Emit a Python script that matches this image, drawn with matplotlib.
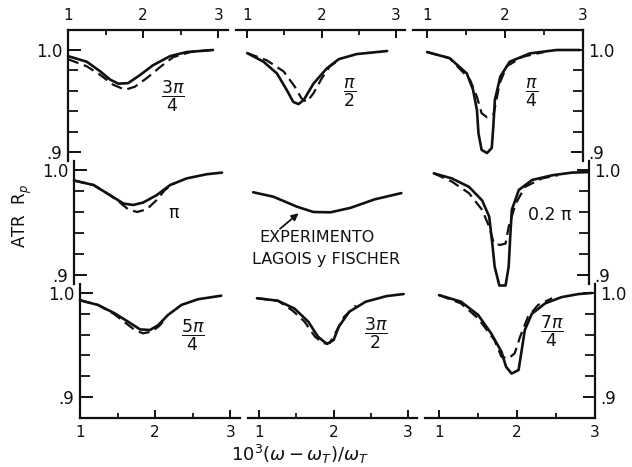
import matplotlib
matplotlib.use("Agg")
import matplotlib.pyplot as plt
from matplotlib.ticker import FixedLocator, NullFormatter, FixedFormatter

plt.rcParams['font.family'] = ['DejaVu Sans']
plt.rcParams['mathtext.fontset'] = 'dejavusans'

# ---- data: reduced frequency vs ATR reflectivity (solid = calc A, dashed = calc B)
# row 0
x_3pi4_s = [1.0, 1.25, 1.43, 1.56, 1.67, 1.8, 1.96, 2.13, 2.36, 2.58, 2.93]
r_3pi4_s = [0.994, 0.9885, 0.979, 0.971, 0.967, 0.9675, 0.9755, 0.985, 0.994, 0.998, 1.0]
x_3pi4_d = [1.0, 1.25, 1.43, 1.6, 1.76, 1.89, 2.05, 2.23, 2.4, 2.63, 2.9]
r_3pi4_d = [0.991, 0.984, 0.9755, 0.966, 0.961, 0.964, 0.9725, 0.9835, 0.993, 0.998, 1.0]

x_pi2_s = [1.0, 1.22, 1.4, 1.53, 1.62, 1.69, 1.76, 1.89, 2.07, 2.23, 2.47, 2.88]
r_pi2_s = [0.997, 0.9885, 0.977, 0.961, 0.949, 0.947, 0.951, 0.967, 0.982, 0.991, 0.996, 0.999]
x_pi2_d = [1.0, 1.26, 1.49, 1.64, 1.73, 1.8, 1.89, 2.0, 2.11, 2.25]
r_pi2_d = [0.997, 0.990, 0.979, 0.964, 0.9525, 0.949, 0.9575, 0.972, 0.984, 0.991]

x_pi4_s = [1.0, 1.29, 1.51, 1.59, 1.64, 1.66, 1.70, 1.77, 1.83, 1.85, 1.87, 1.94,
           2.06, 2.32, 2.66, 2.96]
r_pi4_s = [0.998, 0.992, 0.977, 0.961, 0.941, 0.918, 0.902, 0.899, 0.904, 0.925,
           0.951, 0.974, 0.9885, 0.9967, 1.0, 1.0]
x_pi4_d = [1.0, 1.29, 1.55, 1.64, 1.70, 1.77, 1.85, 1.89, 1.93, 2.02, 2.23, 2.5]
r_pi4_d = [0.998, 0.992, 0.971, 0.954, 0.938, 0.934, 0.936, 0.951, 0.967, 0.984,
           0.9935, 0.998]

# row 1
x_pi_s = [1.0, 1.26, 1.48, 1.66, 1.79, 1.92, 2.10, 2.28, 2.50, 2.77, 2.97]
r_pi_s = [0.990, 0.9857, 0.976, 0.968, 0.9667, 0.969, 0.976, 0.9857, 0.992, 0.996, 0.9975]
x_pi_d = [1.0, 1.26, 1.48, 1.62, 1.72, 1.84, 1.97, 2.10, 2.21, 2.35]
r_pi_d = [0.990, 0.9857, 0.976, 0.9685, 0.9626, 0.960, 0.9626, 0.9714, 0.981, 0.988]

x_exp = [1.0, 1.27, 1.59, 1.81, 2.04, 2.31, 2.63, 2.99]
r_exp = [0.9788, 0.9746, 0.965, 0.960, 0.9597, 0.964, 0.972, 0.978]

x_02pi_s = [1.01, 1.24, 1.46, 1.63, 1.72, 1.76, 1.79, 1.85, 1.93, 1.97, 1.99, 2.01,
            2.10, 2.27, 2.53, 2.78, 2.99]
r_02pi_s = [0.9968, 0.992, 0.984, 0.971, 0.9556, 0.930, 0.908, 0.890, 0.890, 0.908,
            0.9365, 0.962, 0.981, 0.9905, 0.995, 0.9975, 0.998]
x_02pi_d = [1.01, 1.24, 1.46, 1.63, 1.72, 1.78, 1.86, 1.93, 1.97, 2.06, 2.18, 2.40, 2.6]
r_02pi_d = [0.9968, 0.989, 0.978, 0.962, 0.946, 0.930, 0.9286, 0.930, 0.946, 0.968,
            0.984, 0.992, 0.995]

# row 2
x_5pi4_s = [1.0, 1.24, 1.46, 1.64, 1.80, 1.93, 2.04, 2.17, 2.35, 2.57, 2.88]
r_5pi4_s = [0.993, 0.9885, 0.9805, 0.9724, 0.965, 0.9644, 0.969, 0.9788, 0.9885, 0.994, 0.9974]
x_5pi4_d = [1.0, 1.24, 1.46, 1.62, 1.73, 1.84, 1.95, 2.05, 2.15]
r_5pi4_d = [0.993, 0.9885, 0.9795, 0.9705, 0.9644, 0.9612, 0.9628, 0.968, 0.976]

x_3pi2_s = [0.97, 1.25, 1.475, 1.66, 1.79, 1.91, 2.0, 2.07, 2.21, 2.43, 2.71, 2.94]
r_3pi2_s = [0.995, 0.9926, 0.985, 0.9724, 0.958, 0.951, 0.9548, 0.9676, 0.982, 0.9916, 0.997, 0.999]
x_3pi2_d = [0.97, 1.25, 1.45, 1.61, 1.75, 1.86, 1.95, 2.02, 2.14, 2.3]
r_3pi2_d = [0.995, 0.9926, 0.983, 0.9724, 0.958, 0.9516, 0.952, 0.961, 0.977, 0.988]

x_7pi4_s = [1.0, 1.28, 1.5, 1.67, 1.8, 1.86, 1.93, 2.02, 2.06, 2.10, 2.19, 2.36, 2.57, 2.79, 2.96]
r_7pi4_s = [0.998, 0.9917, 0.979, 0.961, 0.9436, 0.929, 0.9225, 0.926, 0.945, 0.9644,
            0.980, 0.990, 0.996, 0.999, 1.0]
x_7pi4_d = [1.0, 1.28, 1.5, 1.71, 1.8, 1.89, 1.97, 2.04, 2.14, 2.27, 2.45]
r_7pi4_d = [0.998, 0.990, 0.9757, 0.9548, 0.9388, 0.937, 0.942, 0.958, 0.977, 0.9885, 0.995]

labels = [[r'$\dfrac{3\pi}{4}$', r'$\dfrac{\pi}{2}$', r'$\dfrac{\pi}{4}$'],
          ['π', None, '0.2 π'],
          [r'$\dfrac{5\pi}{4}$', r'$\dfrac{3\pi}{2}$', r'$\dfrac{7\pi}{4}$']]
label_pos = [[(2.40, 0.955), (2.38, 0.958), (2.34, 0.958)],
             [(2.32, 0.9588), None, (2.50, 0.957)],
             [(2.50, 0.9596), (2.57, 0.961), (2.45, 0.9628)]]

curves = [
    [((x_3pi4_s, r_3pi4_s), (x_3pi4_d, r_3pi4_d)),
     ((x_pi2_s, r_pi2_s), (x_pi2_d, r_pi2_d)),
     ((x_pi4_s, r_pi4_s), (x_pi4_d, r_pi4_d))],
    [((x_pi_s, r_pi_s), (x_pi_d, r_pi_d)),
     ((x_exp, r_exp), None),
     ((x_02pi_s, r_02pi_s), (x_02pi_d, r_02pi_d))],
    [((x_5pi4_s, r_5pi4_s), (x_5pi4_d, r_5pi4_d)),
     ((x_3pi2_s, r_3pi2_s), (x_3pi2_d, r_3pi2_d)),
     ((x_7pi4_s, r_7pi4_s), (x_7pi4_d, r_7pi4_d))],
]

# ---- layout (pixel geometry of the 632 x 467 canvas)
W, H = 632, 467
fig = plt.figure(figsize=(W / 100, H / 100), dpi=100)

row_origin = [68, 74, 80]                       # px of x=1 in left column
row_y = [(29.6, 172.4), (149.0, 296.0), (272.2, 417.8)]   # px of y=1.02 and y=0.88
row_spine = [(0.891, 1.02), (0.8914, 1.0086), (0.88, 1.0087)]
col_xlim = [(1.0, 3.13), (0.85, 3.12), (0.82, 3.0)]
col_x0 = [0, 168, 345]
col_w = [160, 169, 170]

ink = '#111111'
xt_major = [1, 2, 3]
xt_minor = [1.5, 2.5]
yt_major = [0.9, 1.0]
yt_minor = [0.92, 0.94, 0.96, 0.98]

axes = [[None] * 3 for _ in range(3)]
for r in range(3):
    for c in range(3):
        x0 = row_origin[r] + col_x0[c]
        y0, y1 = row_y[r]
        ax = fig.add_axes([x0 / W, 1 - y1 / H, col_w[c] / W, (y1 - y0) / H])
        ax.patch.set_alpha(0)
        ax.set_xlim(*col_xlim[c])
        ax.set_ylim(0.88, 1.02)
        for s in ax.spines.values():
            s.set_visible(False)
            s.set_linewidth(1.6)
            s.set_color(ink)
            s.set_capstyle('projecting')
        ax.spines['left'].set_bounds(*row_spine[r])
        ax.spines['right'].set_bounds(*row_spine[r])

        # x axis
        ax.xaxis.set_major_locator(FixedLocator(xt_major))
        ax.xaxis.set_minor_locator(FixedLocator(xt_minor))
        ax.xaxis.set_major_formatter(FixedFormatter(['1', '2', '3']))
        ax.xaxis.set_minor_formatter(NullFormatter())
        if r == 0:
            ax.spines['top'].set_visible(True)
            ax.tick_params(axis='x', which='both', top=True, bottom=False,
                           labeltop=True, labelbottom=False, direction='in')
        elif r == 2:
            ax.spines['bottom'].set_visible(True)
            ax.tick_params(axis='x', which='both', top=False, bottom=True,
                           labeltop=False, labelbottom=True, direction='in')
        else:
            ax.tick_params(axis='x', which='both', top=False, bottom=False,
                           labeltop=False, labelbottom=False)
        ax.tick_params(axis='x', which='major', length=6, width=1.4, pad=5,
                       labelsize=11, colors=ink)
        ax.tick_params(axis='x', which='minor', length=3.8, width=1.3, colors=ink)

        # y axis
        ax.yaxis.set_major_locator(FixedLocator(yt_major))
        ax.yaxis.set_minor_locator(FixedLocator(yt_minor))
        ax.yaxis.set_major_formatter(FixedFormatter(['.9', '1.0']))
        ax.yaxis.set_minor_formatter(NullFormatter())
        if c == 0:
            ax.spines['left'].set_visible(True)
            ax.tick_params(axis='y', which='both', left=True, right=False,
                           labelleft=True, labelright=False, direction='in')
            ypad = 4
        elif c == 2:
            ax.spines['right'].set_visible(True)
            ax.tick_params(axis='y', which='both', left=False, right=True,
                           labelleft=False, labelright=True, direction='in')
            ypad = 4
        else:
            ax.tick_params(axis='y', which='both', left=False, right=False,
                           labelleft=False, labelright=False)
            ypad = 4
        ax.tick_params(axis='y', which='major', length=9, width=1.4, pad=ypad,
                       labelsize=12, colors=ink)
        ax.tick_params(axis='y', which='minor', length=7.5, width=1.3, colors=ink)

        solid, dashed = curves[r][c]
        ax.plot(solid[0], solid[1], color=ink, lw=1.9, solid_capstyle='round',
                clip_on=False)
        if dashed is not None:
            ax.plot(dashed[0], dashed[1], color=ink, lw=1.6, dashes=(5, 2.6),
                    clip_on=False)
        if labels[r][c] is not None:
            lx, ly = label_pos[r][c]
            ax.text(lx, ly, labels[r][c], ha='center', va='center',
                    fontsize=12.5, color=ink)
        axes[r][c] = ax

# experimental curve annotation
axm = axes[1][1]
axm.annotate('', xy=(1.61, 0.9588), xytext=(1.36, 0.944),
             arrowprops=dict(arrowstyle='-|>', color=ink, lw=1.3,
                             mutation_scale=10, shrinkA=0, shrinkB=0))
axm.text(1.09, 0.9357, 'EXPERIMENTO', ha='left', va='center', fontsize=11.5,
         color=ink)
axm.text(0.99, 0.915, 'LAGOIS y FISCHER', ha='left', va='center', fontsize=11.5,
         color=ink)

fig.text(22 / W, 1 - 216 / H, r'ATR  R$_p$', rotation=90, ha='center', va='center',
         fontsize=12, color=ink)
fig.text(300 / W, 1 - 454 / H, r'$10^3(\omega-\omega_T)/\omega_T$', ha='center',
         va='center', fontsize=13, color=ink)

fig.savefig('out.png', dpi=100)
